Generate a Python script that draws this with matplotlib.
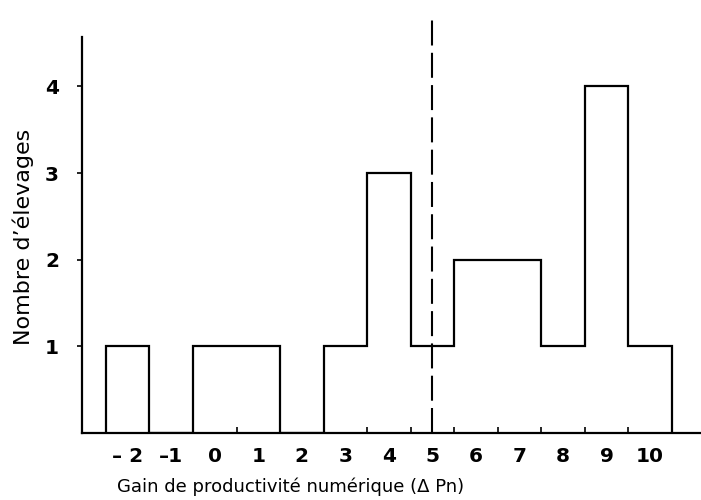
import matplotlib
matplotlib.use("Agg")
import matplotlib.pyplot as plt
import numpy as np

# Data: gain of numerical productivity (class centres) and number of farms
gains = [-2, -1, 0, 1, 2, 3, 4, 5, 6, 7, 8, 9, 10]
counts = [1, 0, 1, 1, 0, 1, 3, 1, 2, 2, 1, 4, 1]
x_labels = ['– 2', '–1', '0', '1', '2', '3', '4', '5', '6', '7', '8', '9', '10']
y_ticks = [1, 2, 3, 4]
threshold = 5

plt.rcParams['font.family'] = ['DejaVu Sans']

fig = plt.figure(figsize=(7.01, 5.0), dpi=100)
ax = fig.add_axes([82/701, 67/500, 619/701, 396/500])

edges = np.concatenate([np.array(gains) - 0.5, [gains[-1] + 0.5]])
ax.stairs(counts, edges, baseline=0, color='black', linewidth=1.6)

# dashed threshold line
ax.plot([threshold, threshold], [0, 4.82], color='black', linewidth=1.5,
        dashes=(12, 3.5), clip_on=False)

ax.set_xlim(-3.05, 11.17)
ax.set_ylim(0, 4.57)

for s in ['top', 'right']:
    ax.spines[s].set_visible(False)
for s in ['left', 'bottom']:
    ax.spines[s].set_linewidth(1.6)

# x: labels at class centres, small ticks at class boundaries
ax.set_xticks(gains)
ax.set_xticklabels(x_labels, fontsize=14.5, fontweight='bold')
ax.tick_params(axis='x', which='major', length=0, pad=10)
ax.set_xticks(edges, minor=True)
ax.tick_params(axis='x', which='minor', length=4, direction='in', width=1.2)

ax.set_yticks(y_ticks)
ax.set_yticklabels([str(v) for v in y_ticks], fontsize=14.5, fontweight='bold')
ax.tick_params(axis='y', length=3.6, width=1.2, pad=13)

ax.set_xlabel('Gain de productivité numérique (Δ Pn)', fontsize=13)
ax.xaxis.set_label_coords(0.337, -0.113)
ax.set_ylabel("Nombre d’élevages", fontsize=16)
ax.yaxis.set_label_coords(-0.078, 0.495)

fig.savefig('out.png', dpi=100)
